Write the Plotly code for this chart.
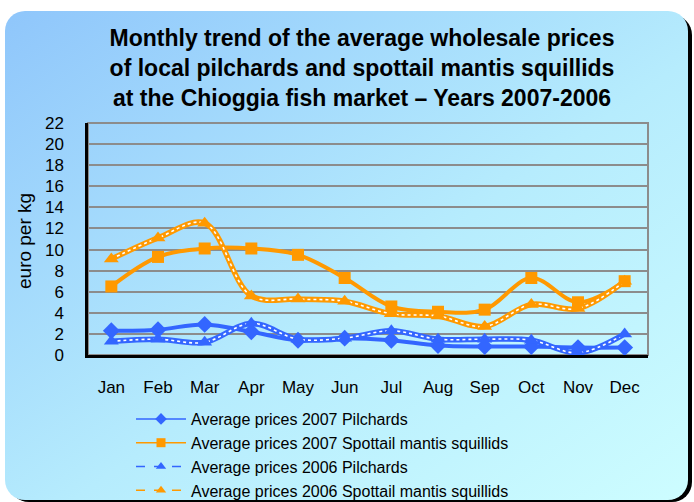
import base64

import plotly.graph_objects as go

MONTHS = ["Jan", "Feb", "Mar", "Apr", "May", "Jun",
          "Jul", "Aug", "Sep", "Oct", "Nov", "Dec"]

PILCHARDS_2007 = [2.3, 2.4, 2.9, 2.2, 1.4, 1.6, 1.4, 0.9, 0.8, 0.8, 0.7, 0.7]
SQUILLIDS_2007 = [6.5, 9.3, 10.1, 10.1, 9.5, 7.3, 4.6, 4.1, 4.3, 7.3, 5.0, 7.0]
PILCHARDS_2006 = [1.3, 1.5, 1.2, 3.0, 1.5, 1.6, 2.3, 1.5, 1.5, 1.4, 0.2, 2.0]
SQUILLIDS_2006 = [9.1, 11.1, 12.5, 5.6, 5.3, 5.1, 3.9, 3.7, 2.7, 4.8, 4.4, 7.0]

Y_TICKS = list(range(0, 23, 2))

BLUE = "#3366ff"
ORANGE = "#ff9900"
FONT = "Liberation Sans, Arial, sans-serif"

W, H = 694, 502
L, R, T, B = 88, 46, 123, 147
PW, PH = W - L - R, H - T - B

# rounded gradient panel with a dark drop shadow, drawn as an svg backdrop
svg = f"""<svg xmlns='http://www.w3.org/2000/svg' width='{W}' height='{H}'>
<defs><linearGradient id='g' x1='0' y1='0' x2='1' y2='1'>
<stop offset='0' stop-color='#8fc6fb'/><stop offset='0.55' stop-color='#b6ecfd'/>
<stop offset='1' stop-color='#cdfdff'/></linearGradient></defs>
<rect width='{W}' height='{H}' fill='white'/>
<rect x='9' y='15' width='683' height='487' rx='20' fill='black'/>
<rect x='5' y='11' width='683' height='489' rx='20' fill='url(#g)'/>
</svg>"""
bg_src = "data:image/svg+xml;base64," + base64.b64encode(svg.encode()).decode()

series = [
    ("Average prices 2007 Pilchards", PILCHARDS_2007, BLUE, "diamond", False),
    ("Average prices 2007 Spottail mantis squillids", SQUILLIDS_2007, ORANGE, "square", False),
    ("Average prices 2006 Pilchards", PILCHARDS_2006, BLUE, "triangle-up", True),
    ("Average prices 2006 Spottail mantis squillids", SQUILLIDS_2006, ORANGE, "triangle-up", True),
]

fig = go.Figure()
for name, vals, color, symbol, dotted in series:
    # thick body of the line
    fig.add_trace(go.Scatter(
        x=MONTHS, y=vals, mode="lines",
        line=dict(color=color, width=5.5 if dotted else 4, shape="spline", smoothing=1),
        showlegend=False, hoverinfo="skip",
    ))
    # thin version carries the legend entry (small legend markers)
    fig.add_trace(go.Scatter(
        x=MONTHS, y=vals, mode="lines+markers", name=name,
        line=dict(color=color, width=1.5, dash="dash" if dotted else "solid",
                  shape="spline", smoothing=1),
        marker=dict(symbol=symbol, size=9, color=color),
    ))
    if dotted:
        fig.add_trace(go.Scatter(
            x=MONTHS, y=vals, mode="lines",
            line=dict(color="white", width=1.6, dash="dot", shape="spline", smoothing=1),
            showlegend=False, hoverinfo="skip",
        ))
    fig.add_trace(go.Scatter(
        x=MONTHS, y=vals, mode="markers",
        marker=dict(symbol=symbol, size=12 if symbol == "square" else 13, color=color),
        showlegend=False, hovertemplate=name + "<br>%{x}: %{y}<extra></extra>",
    ))

# grey frame on the top and right, black axes on left and bottom
fig.add_shape(type="rect", xref="paper", yref="paper", x0=0, x1=1, y0=0, y1=1,
              line=dict(color="#8c8c8c", width=2), layer="below")

fig.add_annotation(
    text="euro per kg", xref="paper", yref="paper",
    x=(24 - L) / PW, y=(T + PH - 241) / PH, textangle=-90, showarrow=False,
    xanchor="center", yanchor="middle",
    font=dict(size=19, color="black", family=FONT),
)

fig.update_xaxes(
    type="category", range=[-0.5, 11.5], showgrid=False,
    showline=True, linecolor="black", linewidth=2.5,
    ticks="", ticklabelstandoff=15,
    tickfont=dict(size=17, color="black", family=FONT),
)
fig.update_yaxes(
    range=[0, 22], tickvals=Y_TICKS, showgrid=True,
    gridcolor="#8c8c8c", gridwidth=2, zeroline=False,
    showline=True, linecolor="black", linewidth=2.5,
    ticks="", ticklabelstandoff=18,
    tickfont=dict(size=17, color="black", family=FONT),
)

fig.update_layout(
    width=W, height=H,
    margin=dict(l=L, r=R, t=T, b=B, autoexpand=False),
    paper_bgcolor="white",
    plot_bgcolor="rgba(0,0,0,0)",
    images=[dict(
        source=bg_src, xref="paper", yref="paper",
        x=-L / PW, y=1 + T / PH, sizex=W / PW, sizey=H / PH,
        xanchor="left", yanchor="top", sizing="stretch", layer="below",
    )],
    title=dict(
        text="Monthly trend of the average wholesale prices<br>"
             "of local pilchards and spottail mantis squillids<br>"
             "at the Chioggia fish market – Years 2007-2006",
        xref="container", yref="container",
        x=362 / W, y=1 - 46 / H, xanchor="center", yanchor="top",
        font=dict(size=23, color="black", family=FONT, weight="bold"),
    ),
    legend=dict(
        x=(131 - L) / PW, y=(T + PH - 402) / PH, xanchor="left", yanchor="top",
        bgcolor="rgba(0,0,0,0)", font=dict(size=16, color="black", family=FONT),
        itemwidth=50, tracegroupgap=0,
    ),
    font=dict(family=FONT, color="black"),
    showlegend=True,
)

fig.write_html("out.html", config={"displayModeBar": False},
               post_script="document.body.style.margin='0';")
